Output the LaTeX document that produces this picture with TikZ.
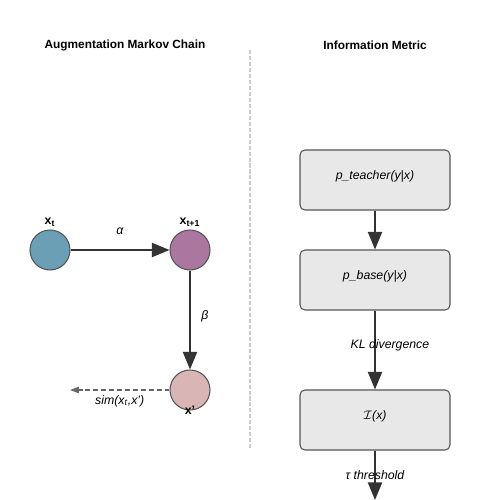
\documentclass[tikz,border=0pt]{standalone}
\usepackage{fontspec}
\setmainfont{Liberation Sans}
\usetikzlibrary{arrows.meta}
\definecolor{cA}{HTML}{6A9FB5}
\definecolor{cB}{HTML}{AB769F}
\definecolor{cC}{HTML}{D9B5B5}
\definecolor{boxfill}{HTML}{E8E8E8}
\definecolor{boxline}{HTML}{555555}
\definecolor{arr}{HTML}{333333}
\definecolor{dashgray}{HTML}{666666}
\definecolor{sepgray}{HTML}{CCCCCC}
\begin{document}
\begin{tikzpicture}[x=0.02cm,y=-0.02cm,
  title/.style={font=\fontsize{6.75}{8}\selectfont\bfseries, inner sep=0pt},
  state/.style={circle, draw=boxline, line width=0.6pt, minimum size=0.8cm, inner sep=0pt},
  slabel/.style={font=\fontsize{7}{8}\selectfont\bfseries, inner sep=1.5pt},
  lbl/.style={font=\fontsize{7}{8}\selectfont\itshape, inner sep=0pt},
  mbox/.style={rectangle, rounded corners=2.8pt, draw=boxline, line width=0.6pt, fill=boxfill, minimum width=3cm, minimum height=1.2cm, inner sep=0pt},
  btext/.style={font=\fontsize{7}{8}\selectfont\itshape, inner sep=0pt, yshift=2pt},
  bigarrow/.style={draw=arr, line width=1.1pt, -{Triangle[length=10pt,width=8pt]}},
  simarrow/.style={draw=dashgray, line width=0.7pt, dash pattern=on 2.8pt off 1.7pt, -{Triangle[length=5pt,width=3.5pt]}},
  sepline/.style={draw=sepgray, line width=0.8pt, dash pattern=on 2.3pt off 1.1pt}
]
\useasboundingbox (0,0) rectangle (500,500);

% titles
\node[title] (t1) at (125,45) {Augmentation Markov Chain};
\node[title] (t2) at (375,45) {Information Metric};

% separator
\coordinate (s1) at (250,50);
\coordinate (s2) at (250,450);
\draw[sepline] (s1) -- (s2);

% Markov chain
\node[state, fill=cA, label={[slabel]above:x\textsubscript{t}}] (xt) at (50,250) {};
\node[state, fill=cB, label={[slabel]above:x\textsubscript{t+1}}] (xt1) at (190,250) {};
\node[state, fill=cC, label={[slabel, anchor=center, yshift=0pt]below:x'}] (xp) at (190,390) {};
\coordinate (simend) at (70,390);

\draw[bigarrow] (xt) -- node[lbl, midway, yshift=10.6pt] {α} (xt1);
\draw[bigarrow] (xt1) -- node[lbl, midway, xshift=8.5pt, yshift=2.3pt] {β} (xp);
\draw[simarrow] (xp) -- node[lbl, midway, yshift=-6.2pt] {sim(x\textsubscript{t},x')} (simend);

% Information metric
\node[mbox, label={[btext]center:p\_teacher(y|x)}] (b1) at (375,180) {};
\node[mbox, label={[btext]center:p\_base(y|x)}] (b2) at (375,280) {};
\node[mbox, label={[btext]center:$\mathcal{I}$(x)}] (b3) at (375,420) {};
\coordinate (bend) at (375,500);

\draw[bigarrow] (b1) -- (b2);
\draw[bigarrow] (b2) -- node[lbl, midway, xshift=8.5pt, yshift=2.8pt] {KL divergence} (b3);
\draw[bigarrow] (b3) -- node[lbl, midway] {τ threshold} (bend);
\end{tikzpicture}
\end{document}
